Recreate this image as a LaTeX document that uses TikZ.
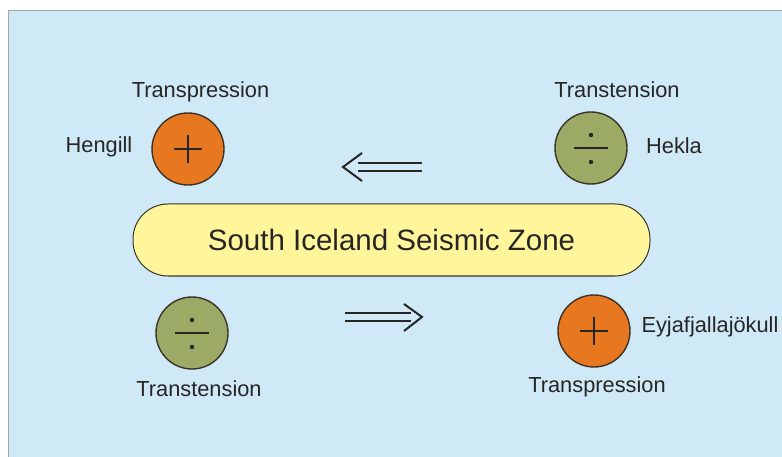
\documentclass[tikz,border=0pt]{standalone}
\usepackage{fontspec}
\setmainfont{Liberation Sans}
\usepackage{tikz}
\definecolor{sky}{RGB}{207,233,247}
\definecolor{orng}{RGB}{232,120,32}
\definecolor{olive}{RGB}{155,170,100}
\definecolor{zonefill}{RGB}{255,246,155}
\definecolor{rim}{RGB}{60,50,40}
\tikzstyle{fault} = [draw=rim, line width=1.4pt, circle, minimum size=72pt, inner sep=0pt]
\tikzstyle{press} = [fault, fill=orng]
\tikzstyle{tens} = [fault, fill=olive]
\tikzstyle{lbl} = [font=\fontsize{21.8}{24}\selectfont, text=black!85]
\tikzstyle{sign} = [line width=1.4pt, draw=black!85]
\tikzstyle{slip} = [line width=2pt, draw=black!85]

\begin{document}
\begin{tikzpicture}[x=1pt,y=-1pt]
    \useasboundingbox (0,0) rectangle (782,457);
    \fill[sky] (8.5,10.5) rectangle (790,465);
    \draw[gray!70, line width=1pt] (8.5,465) -- (8.5,10.5) -- (790,10.5);
    \node[draw=rim, line width=1pt, fill=zonefill, minimum width=517pt, minimum height=72pt, rounded corners=35pt,
          font=\fontsize{29.5}{32}\selectfont, text=black!85](sisz) at (391.5,240){South Iceland Seismic Zone};
    \node[press](hen) at (188,149){};
    \node[tens](hek) at (591,148){};
    \node[tens](tl) at (192,333){};
    \node[press](eyj) at (594,331){};
    \node[lbl](henl) at (99,147){Hengill};
    \node[lbl](hekl) at (674,146){Hekla};
    \node[lbl](eyjl) at (710,327){Eyjafjallajökull};
    \node[lbl](t1) at (200.5,92){Transpression};
    \node[lbl](t2) at (617,90){Transtension};
    \node[lbl](t3) at (199,389){Transtension};
    \node[lbl](t4) at (597,387){Transpression};
    % signs
    \draw[sign] (hen.center) ++(-14,0) -- ++(28,0) (hen.center) ++(0,-14) -- ++(0,28);
    \draw[sign] (eyj.center) ++(-14,0) -- ++(28,0) (eyj.center) ++(0,-14) -- ++(0,28);
    \draw[sign] (hek.center) ++(-17,0) -- ++(34,0);
    \fill[black!85] (hek.center) ++(0,-13) circle (2.2) (hek.center) ++(0,14) circle (2.2);
    \draw[sign] (tl.center) ++(-17,0) -- ++(34,0);
    \fill[black!85] (tl.center) ++(0,-13) circle (2.2) (tl.center) ++(0,14) circle (2.2);
    % movement
    \coordinate (lw) at (343,167);
    \coordinate (rw) at (422,317);
    \draw[slip] (lw) ++(15,-4) -- ++(64,0) (lw) ++(15,4) -- ++(64,0);
    \draw[slip] (lw) ++(19,-14) -- (lw) -- ++(19,14);
    \draw[slip] (rw) ++(-77,-4) -- ++(66,0) (rw) ++(-77,4) -- ++(66,0);
    \draw[slip] (rw) ++(-18,-13) -- (rw) -- ++(-18,14);
  \end{tikzpicture}
\end{document}
